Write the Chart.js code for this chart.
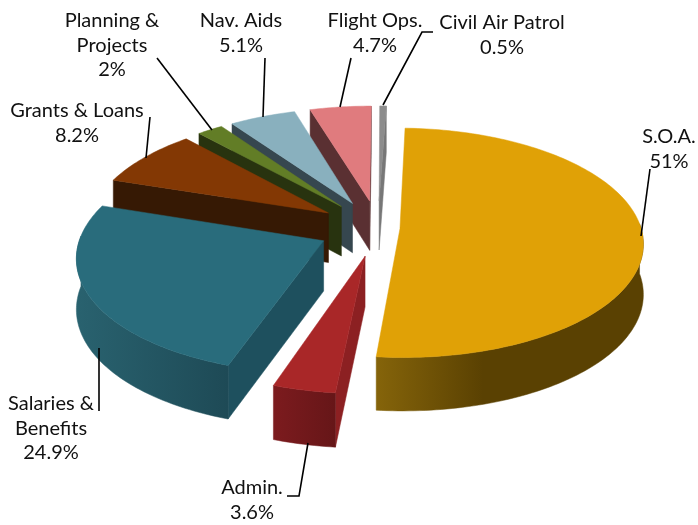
<!DOCTYPE html>
<html><head><meta charset="utf-8">
<script src="https://cdn.jsdelivr.net/npm/chart.js@4"></script>
<style>html,body{margin:0;padding:0;background:#fff;overflow:hidden}canvas{display:block}</style>
</head><body><canvas id="c" width="698" height="525"></canvas>
<script>
// ---- data ----
const categories = ["S.O.A.","Admin.","Salaries & Benefits","Grants & Loans","Planning & Projects","Nav. Aids","Flight Ops.","Civil Air Patrol"];
const values = [51,3.6,24.9,8.2,2,5.1,4.7,0.5];
// ---- style ----
const topColors  = ["#E0A106","#A92728","#296C7C","#833804","#627D26","#89B0BE","#E07B7E","#8C8C8C"];
const sideColors = ["#5C4302","#8C2022","#1E505E","#361904","#28330F","#36474F","#5A3032","#777777"];
const rimLight   = ["#85640A","#7C1B1E","#29626F","#361904","#28330F","#36474F","#5A3032","#777777"];
const rimDark    = ["#5A4102","#661618","#1E4A56","#361904","#28330F","#36474F","#5A3032","#777777"];
const explode    = [22,60,60,60,60,60,60,60];
const drawOrder  = [7,6,5,4,3,2,0,1];
const labelLines = [["S.O.A."],["Admin."],["Salaries &","Benefits"],["Grants & Loans"],["Planning &","Projects"],["Nav. Aids"],["Flight Ops."],["Civil Air Patrol"]];
const labelX = [669,252,51,77,112,241,375,502];
const labelY = [137,488,404,111,21,21,21,23];
const lineGap = 24.5;
const leaders = [
 [[650,169],[641,236]],
 [[287,496],[299,496],[308,443]],
 [[99,348],[99,411]],
 [[150,117],[146,158]],
 [[157,58],[212,130]],
 [[265,58],[263,117]],
 [[351,58],[340,107]],
 [[433,32],[422,32],[383,105]]
];
const TILT=0.468, PERSP=0.123, DEPTH=50;

const pie3d = {
  id:'pie3d',
  beforeDatasetsDraw(chart){
    const ctx=chart.ctx, arcs=chart.getDatasetMeta(0).data;
    for(const i of drawOrder){ drawSlice(ctx,arcs[i],i); }
    drawLabels(ctx);
    return false;
  }
};
function project(arc,u,v,down){
  const R=arc.outerRadius, s=1/(1-PERSP*v/R);
  return {x:arc.x+u*s, y:arc.y+TILT*v*s+(down?DEPTH*Math.sqrt(s):0)};
}
function poly(ctx,pts,fill){
  ctx.beginPath();pts.forEach((p,j)=>j?ctx.lineTo(p.x,p.y):ctx.moveTo(p.x,p.y));ctx.closePath();
  ctx.fillStyle=fill;ctx.strokeStyle=fill;ctx.lineWidth=0.5;ctx.fill();ctx.stroke();
}
function drawSlice(ctx,arc,i){
  const R=arc.outerRadius,a0=arc.startAngle,a1=arc.endAngle,mid=(a0+a1)/2;
  const eu=Math.cos(mid)*explode[i], ev=Math.sin(mid)*explode[i];
  const P=(a,r,d)=>project(arc,eu+Math.cos(a)*r,ev+Math.sin(a)*r,d);
  const n=Math.max(4,Math.ceil((a1-a0)/0.02));
  const rim=[];for(let j=0;j<=n;j++)rim.push(a0+(a1-a0)*j/n);
  const A=P(0,0,false),Ad=P(0,0,true),I=P(mid,R*0.5,false);
  // radial side walls
  for(const a of [a0,a1]){
    const B=P(a,R,false),Bd=P(a,R,true);
    const ex=B.x-A.x,ey=B.y-A.y;
    const c1=ex*1-ey*0, c2=ex*(I.y-A.y)-ey*(I.x-A.x);
    if(c1*c2<0) poly(ctx,[A,B,Bd,Ad],sideColors[i]);
  }
  // outer rim wall, front-facing portion
  const front=rim.filter(a=>Math.sin(a)>-0.06);
  if(front.length>1){
    const tops=front.map(a=>P(a,R,false)),bots=front.map(a=>P(a,R,true)).reverse();
    const xs=tops.map(p=>p.x),x0=Math.min(...xs),x1=Math.max(...xs);
    const g=ctx.createLinearGradient(x0,0,Math.max(x1,x0+1),0);
    const soa=i===0;
    g.addColorStop(0,rimLight[i]);
    g.addColorStop(soa?0.4:1,rimDark[i]);
    g.addColorStop(1,rimDark[i]);
    poly(ctx,tops.concat(bots),g);
  }
  // top face
  poly(ctx,[A].concat(rim.map(a=>P(a,R,false))),topColors[i]);
}
function drawLabels(ctx){
  ctx.save();
  ctx.strokeStyle="#000";ctx.lineWidth=1.6;ctx.lineJoin="miter";
  leaders.forEach(pts=>{ctx.beginPath();pts.forEach((p,j)=>j?ctx.lineTo(p[0],p[1]):ctx.moveTo(p[0],p[1]));ctx.stroke();});
  ctx.fillStyle="#111";ctx.font='20px Lato';ctx.textAlign="center";ctx.textBaseline="middle";
  categories.forEach((c,i)=>{
    const lines=labelLines[i].concat([values[i]+"%"]);
    lines.forEach((t,j)=>ctx.fillText(t,labelX[i],labelY[i]+j*lineGap));
  });
  ctx.restore();
}
new Chart(document.getElementById('c'),{
  type:'pie',
  data:{labels:categories,datasets:[{data:values,backgroundColor:topColors,borderWidth:0}]},
  options:{
    responsive:false,animation:false,rotation:2,radius:241,
    layout:{padding:{left:58,right:0,top:0,bottom:69}},
    plugins:{legend:{display:false},tooltip:{enabled:false}}
  },
  plugins:[pie3d]
});
</script></body></html>
